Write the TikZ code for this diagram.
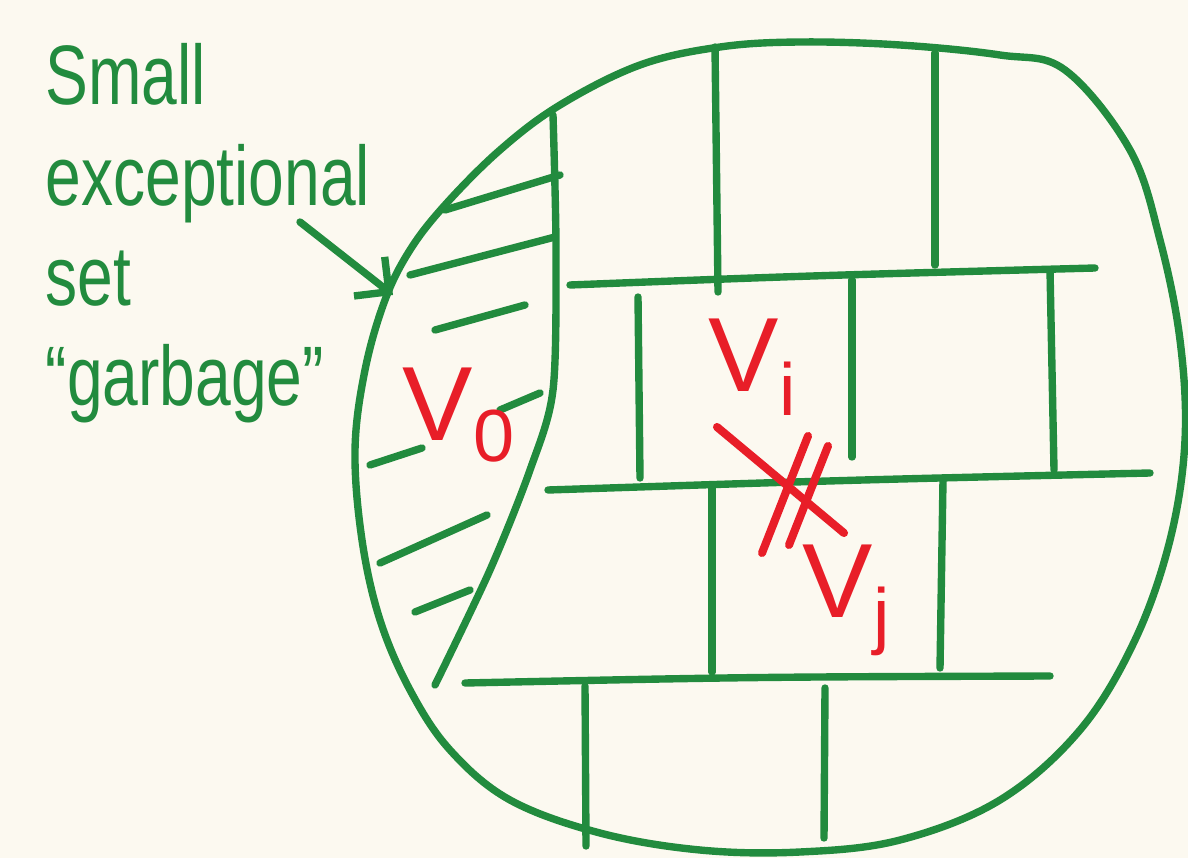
\documentclass[tikz,border=0pt]{standalone}
\usepackage{fontspec}
\setmainfont{Liberation Sans}
\newfontfamily\handfont[FakeStretch=0.76]{Liberation Sans}
\usetikzlibrary{arrows.meta}
\definecolor{pengreen}{RGB}{34,139,62}
\definecolor{penred}{RGB}{232,30,40}
\definecolor{paper}{RGB}{252,249,240}
\tikzset{
  ink/.style={draw=pengreen, line width=2.1pt, line cap=round, line join=round},
  redink/.style={draw=penred, line width=2.3pt, line cap=round},
  note/.style={text=pengreen, font=\handfont\fontsize{24}{28.5}\selectfont, align=left, inner sep=0pt},
  part/.style={text=penred, font=\fontsize{30}{34}\selectfont, inner sep=0pt},
}

\begin{document}
\begin{tikzpicture}[x=0.01cm, y=-0.01cm]
  \fill[paper] (0,0) rectangle (1188,858);
  \useasboundingbox (0,0) rectangle (1188,858);
  % the whole set
  \draw[ink] plot[smooth cycle, tension=0.6] coordinates {(385,300) (410,250) (445,205)
    (500,150) (560,105) (640,65) (720,47) (800,42) (900,45) (1000,55) (1065,70)
    (1130,150) (1160,240) (1180,340) (1185,440) (1170,540) (1135,640) (1080,730)
    (1000,800) (900,840) (800,852) (700,850) (600,833) (510,800) (450,750) (410,690)
    (380,620) (362,540) (355,450) (365,370)};
  % edge of the garbage part
  \draw[ink] plot[smooth] coordinates {(553,115) (556,250) (553,390) (530,470)
    (490,570) (435,685)};
  \foreach \xa/\ya/\xb/\yb in {445/210/560/175, 410/275/555/237, 435/330/525/305,
      500/410/540/393, 370/465/422/448, 380/563/487/515, 415/612/470/590}
    \draw[ink] (\xa,\ya) -- (\xb,\yb);
  % the grid of parts
  \draw[ink] (570,285) .. controls (800,276) .. (1095,268);
  \draw[ink] (548,490) .. controls (850,480) .. (1150,473);
  \draw[ink] (465,683) .. controls (750,677) .. (1050,676);
  \foreach \xa/\ya/\xb/\yb in {715/47/718/292, 935/53/935/265, 638/297/640/478,
      852/280/852/457, 1050/270/1054/470, 712/485/712/672, 943/480/940/668,
      585/686/586/846, 825/688/824/838}
    \draw[ink] (\xa,\ya) -- (\xb,\yb);
  % labels
  \node[note, anchor=north west] (garbage) at (45,43)
    {Small\\exceptional\\set\\“garbage”};
  \coordinate (tail) at (300,222);
  \coordinate (tip) at (393,295);
  \draw[ink, -{Straight Barb[angle=90:10pt]}] (tail) -- (tip);
  \node[part, anchor=base west] (v0) at (402,440) {V\textsubscript{0}};
  \node[part, anchor=base west] (vi) at (708,392) {V\textsubscript{i}};
  \node[part, anchor=base west] (vj) at (802,617) {V\textsubscript{j}};
  % no edges between V_i and V_j
  \draw[redink] (717,427) -- (844,533);
  \draw[redink] (808,436) -- (762,553);
  \draw[redink] (828,446) -- (789,545);
\end{tikzpicture}
\end{document}
